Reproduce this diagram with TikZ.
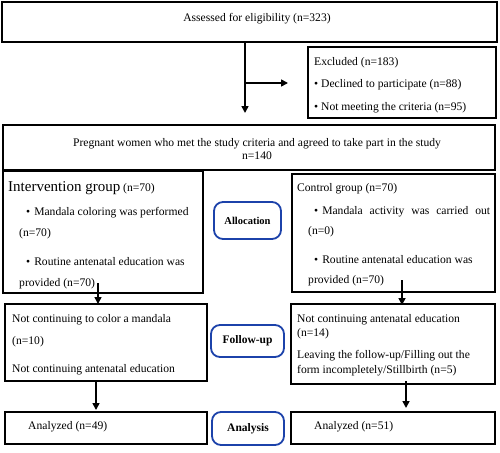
\documentclass[tikz,border=0pt]{standalone}
\usepackage{fontspec}
\setmainfont{Liberation Serif}
\usetikzlibrary{arrows.meta}
\definecolor{roundblue}{RGB}{28,66,170}
\begin{document}
\begin{tikzpicture}[x=1pt,y=-1pt,
  box/.style={draw=black, line width=2.6pt, inner sep=0pt},
  rbox/.style={draw=roundblue, line width=1.8pt, rounded corners=9pt, inner sep=0pt, font=\fontsize{11.5}{13}\selectfont\bfseries},
  txt/.style={anchor=base west, inner sep=0pt, font=\fontsize{11.6}{13}\selectfont},
  ctxt/.style={anchor=base, inner sep=0pt, font=\fontsize{11.6}{13}\selectfont},
  arr/.style={line width=1.6pt, -{Triangle[length=7pt,width=7pt]}}]
\useasboundingbox (0,0) rectangle (500,452);
% boxes
\node[box, minimum width=495pt, minimum height=40pt] (top) at (249.5,22) {};
\node[box, minimum width=188pt, minimum height=71pt] (excl) at (402,82.5) {};
\node[box, minimum width=492pt, minimum height=45pt] (preg) at (249,147.5) {};
\node[box, minimum width=200pt, minimum height=122pt] (interv) at (103,232) {};
\node[rbox, minimum width=67pt, minimum height=37pt, font=\fontsize{10.5}{12}\selectfont\bfseries] (alloc) at (247.5,220.5) {Allocation};
\node[box, minimum width=203pt, minimum height=118pt] (ctrl) at (393.5,233) {};
\node[box, minimum width=202pt, minimum height=77pt] (ful) at (106,342.5) {};
\node[rbox, minimum width=73pt, minimum height=32pt] (fu) at (247.5,341) {Follow-up};
\node[box, minimum width=204pt, minimum height=80pt] (fur) at (393,344) {};
\node[box, minimum width=202pt, minimum height=32pt] (al) at (106,428) {};
\node[rbox, minimum width=72pt, minimum height=33pt] (an) at (248,428.5) {Analysis};
\node[box, minimum width=204pt, minimum height=32pt] (ar) at (393,428) {};
% texts
\node[ctxt] (t1) at (257,22) {Assessed for eligibility (n=323)};
\node[ctxt] (p1) at (257,146) {Pregnant women who met the study criteria and agreed to take part in the study};
\node[ctxt] (p2) at (257,159) {n=140};
\node[txt] (e1) at (314,66) {Excluded (n=183)};
\node[txt] (e2) at (314,87) {• Declined to participate (n=88)};
\node[txt] (e3) at (314,110) {• Not meeting the criteria (n=95)};
\node[txt] (i1) at (8,191.5) {{\fontsize{15}{17}\selectfont Intervention group} (n=70)};
\node[txt] (i2) at (26,215) {•\hspace{4pt}Mandala coloring was performed};
\node[txt] (i3) at (19,236) {(n=70)};
\node[txt] (i4) at (26,265) {•\hspace{4pt}Routine antenatal education was};
\node[txt] (i5) at (19,286) {provided (n=70)};
\node[txt] (c1) at (297,191) {Control group (n=70)};
\node[txt] (c2) at (314,214) {\makebox[176pt][s]{•\hspace{4pt}Mandala activity was carried out}};
\node[txt] (c3) at (308,234) {(n=0)};
\node[txt] (c4) at (314,263) {•\hspace{4pt}Routine antenatal education was};
\node[txt] (c5) at (308,283) {provided (n=70)};
\node[txt] (l1) at (12,322) {Not continuing to color a mandala};
\node[txt] (l2) at (12,344) {(n=10)};
\node[txt] (l3) at (12,372) {Not continuing antenatal education};
\node[txt] (r1) at (297,322) {Not continuing antenatal education};
\node[txt] (r2) at (297,336) {(n=14)};
\node[txt] (r3) at (297,358) {Leaving the follow-up/Filling out the};
\node[txt] (r4) at (297,373) {form incompletely/Stillbirth (n=5)};
\node[txt] (a1) at (28,429) {Analyzed (n=49)};
\node[txt] (a2) at (314,429) {Analyzed (n=51)};
% connectors
\coordinate (k1) at (245,113);
\coordinate (k2) at (245,83);
\coordinate (k3) at (288,83);
\coordinate (k4s) at (98,283);
\coordinate (k4e) at (98,304);
\coordinate (k5s) at (402,280);
\coordinate (k5e) at (402,305);
\coordinate (k6e) at (96,410);
\coordinate (k7e) at (406,408);
\draw[arr] (top.south -| k1) -- (k1);
\draw[arr] (k2) -- (k3);
\draw[arr] (k4s) -- (k4e);
\draw[arr] (k5s) -- (k5e);
\draw[arr] (ful.south -| k6e) -- (k6e);
\draw[arr] (fur.south -| k7e) ++(0,-4) -- (k7e);
\end{tikzpicture}
\end{document}
